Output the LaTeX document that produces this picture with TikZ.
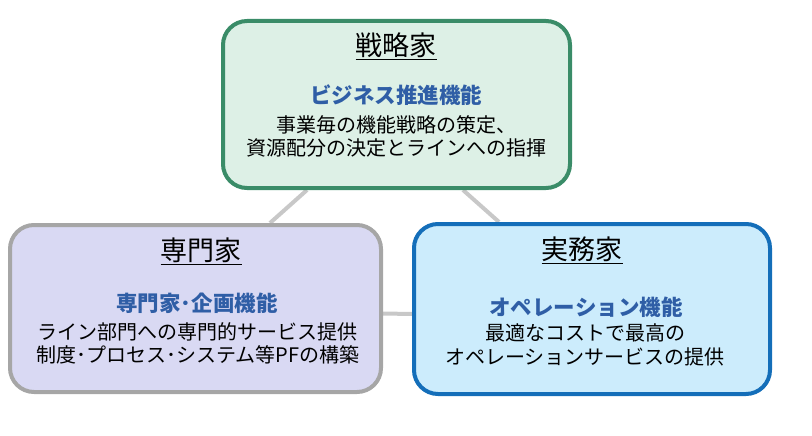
\documentclass[tikz,border=0pt]{standalone}
\usepackage{fontspec}
\setmainfont{Noto Sans CJK JP}
\usetikzlibrary{backgrounds}
\definecolor{stratline}{RGB}{58,140,104}
\definecolor{stratfill}{RGB}{221,240,230}
\definecolor{specline}{RGB}{166,166,166}
\definecolor{specfill}{RGB}{217,217,243}
\definecolor{opline}{RGB}{20,110,185}
\definecolor{opfill}{RGB}{204,236,252}
\definecolor{funcblue}{RGB}{47,94,166}
\definecolor{linkgray}{RGB}{200,200,200}
\tikzset{
  rolebox/.style={draw, rounded corners=24pt, line width=4pt, inner sep=0pt},
  roletitle/.style={font=\fontsize{27}{30}\selectfont, inner sep=0pt},
  rolefunc/.style={font=\bfseries\fontsize{21.5}{26}\selectfont, text=funcblue, inner sep=0pt},
  roledesc/.style={font=\fontsize{20}{23.5}\selectfont, align=center, inner sep=0pt},
  link/.style={draw=linkgray, line width=4pt}
}

\begin{document}
\begin{tikzpicture}[x=1pt,y=-1pt]
\useasboundingbox (0,0) rectangle (812,436);
\node[rolebox, draw=stratline, fill=stratfill, minimum width=347pt, minimum height=167pt] (strat) at (396.5,104.5) {};
\node[rolebox, draw=specline, fill=specfill, minimum width=371pt, minimum height=167pt] (spec) at (195.5,308.5) {};
\node[rolebox, draw=opline, fill=opfill, minimum width=356pt, minimum height=170pt] (op) at (592,309) {};

\node[roletitle] (strattitle) at (396,46) {\underline{戦略家}};
\node[rolefunc] (stratfunc) at (396,95) {ビジネス推進機能};
\node[roledesc] (stratdesc) at (396,136.5) {事業毎の機能戦略の策定、\\資源配分の決定とラインへの指揮};

\node[roletitle] (spectitle) at (201,251) {\underline{専門家}};
\node[rolefunc] (specfunc) at (197,303) {専門家･企画機能};
\node[roledesc] (specdesc) at (198,343.5) {ライン部門への専門的サービス提供\\制度･プロセス･システム等PFの構築};

\node[roletitle] (optitle) at (582,250) {\underline{実務家}};
\node[rolefunc] (opfunc) at (586,307) {オペレーション機能};
\node[roledesc] (opdesc) at (585,345) {最適なコストで最高の\\オペレーションサービスの提供};

\begin{scope}[on background layer]
\draw[link] ([xshift=-89.5pt]strat.south) -- ([xshift=74.5pt]spec.north);
\draw[link] ([xshift=66.5pt]strat.south) -- ([xshift=-93pt]op.north);
\draw[link] ([yshift=-5pt]spec.east) -- ([yshift=-5pt]op.west);
\end{scope}
\end{tikzpicture}
\end{document}
